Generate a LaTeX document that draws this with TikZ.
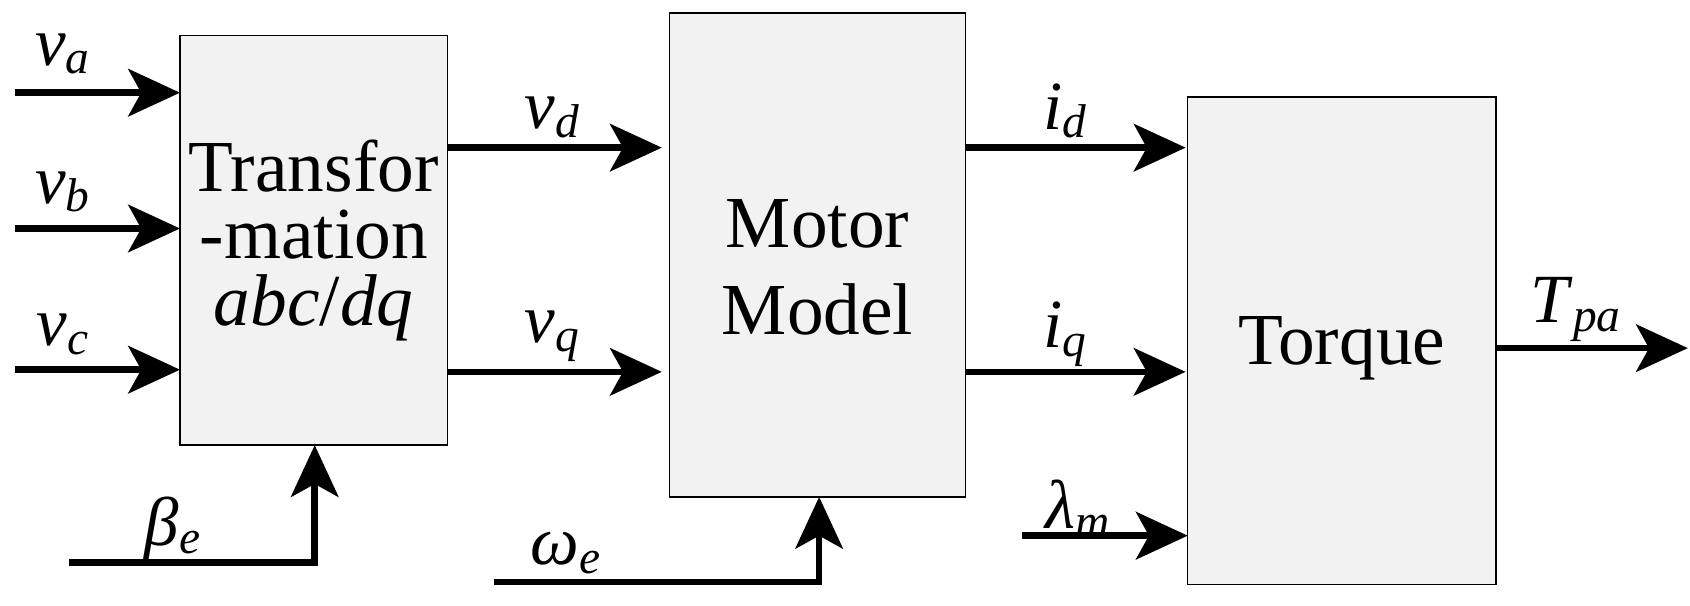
\documentclass[tikz,border=0pt]{standalone}
\usepackage{fontspec}
\setmainfont{Liberation Serif}
\usetikzlibrary{arrows.meta}
\newcommand{\sg}[2]{\textit{#1}\raisebox{-4pt}{\fontsize{22}{22}\selectfont\textit{#2}}}
\begin{document}
\begin{tikzpicture}[x=0.5pt,y=-0.5pt,
 blk/.style={draw,line width=0.6pt,fill=black!5,inner sep=0pt},
 sig/.style={line width=3pt,-{Stealth[length=24pt,width=22pt,inset=6pt]}},
 lab/.style={font=\fontsize{32}{34}\selectfont,inner sep=0pt},
 txt/.style={font=\fontsize{34}{31}\selectfont,align=center}]
\useasboundingbox (0,0) rectangle (1568,562);
\node[blk,minimum width=124pt,minimum height=190pt] (T) at (291,223) {};
\node[txt] at (291,223) {Transfor\\-mation\\\textit{abc}/\textit{dq}};
\node[blk,minimum width=137.5pt,minimum height=224.5pt] (M) at (758.5,236.5) {};
\node[txt,font=\fontsize{34}{40}\selectfont] at (758.5,248) {Motor\\Model};
\node[blk,minimum width=143pt,minimum height=226pt] (Q) at (1245,316) {};
\node[txt] at (1245,323) {Torque};
\coordinate (a0) at (14,86); \coordinate (a1) at (167,86);
\coordinate (b0) at (14,212); \coordinate (b1) at (167,212);
\coordinate (c0) at (14,343); \coordinate (c1) at (167,343);
\draw[sig] (a0)--(a1); \draw[sig] (b0)--(b1); \draw[sig] (c0)--(c1);
\coordinate (d0) at (415,137); \coordinate (d1) at (614,137);
\coordinate (q0) at (415,345); \coordinate (q1) at (614,345);
\draw[sig] (d0)--(d1); \draw[sig] (q0)--(q1);
\coordinate (i0) at (896,137); \coordinate (i1) at (1100,137);
\coordinate (j0) at (896,345); \coordinate (j1) at (1100,345);
\draw[sig] (i0)--(i1); \draw[sig] (j0)--(j1);
\coordinate (l0) at (948,497); \coordinate (l1) at (1102,497);
\draw[sig] (l0)--(l1);
\coordinate (t0) at (1388,323); \coordinate (t1) at (1566,323);
\draw[sig] (t0)--(t1);
\coordinate (be0) at (64,522); \coordinate (be1) at (292,522); \coordinate (be2) at (292,413);
\draw[sig] (be0)--(be1)--(be2);
\coordinate (w0) at (458,540); \coordinate (w1) at (760,540); \coordinate (w2) at (760,461);
\draw[sig] (w0)--(w1)--(w2);
\node[lab] at (58,50) {\sg{v}{a}};
\node[lab] at (58,178) {\sg{v}{b}};
\node[lab] at (58,310) {\sg{v}{c}};
\node[lab] at (512,109) {\sg{v}{d}};
\node[lab] at (512,312) {\sg{v}{q}};
\node[lab] at (988,103) {\sg{i}{d}};
\node[lab] at (988,310) {\sg{i}{q}};
\node[lab] at (1000,472) {\sg{λ}{m}};
\node[lab] at (1462,287) {\sg{T}{pa}};
\node[lab] at (160,490) {\sg{β}{e}};
\node[lab] at (525,513) {\sg{ω}{e}};
\end{tikzpicture}
\end{document}
